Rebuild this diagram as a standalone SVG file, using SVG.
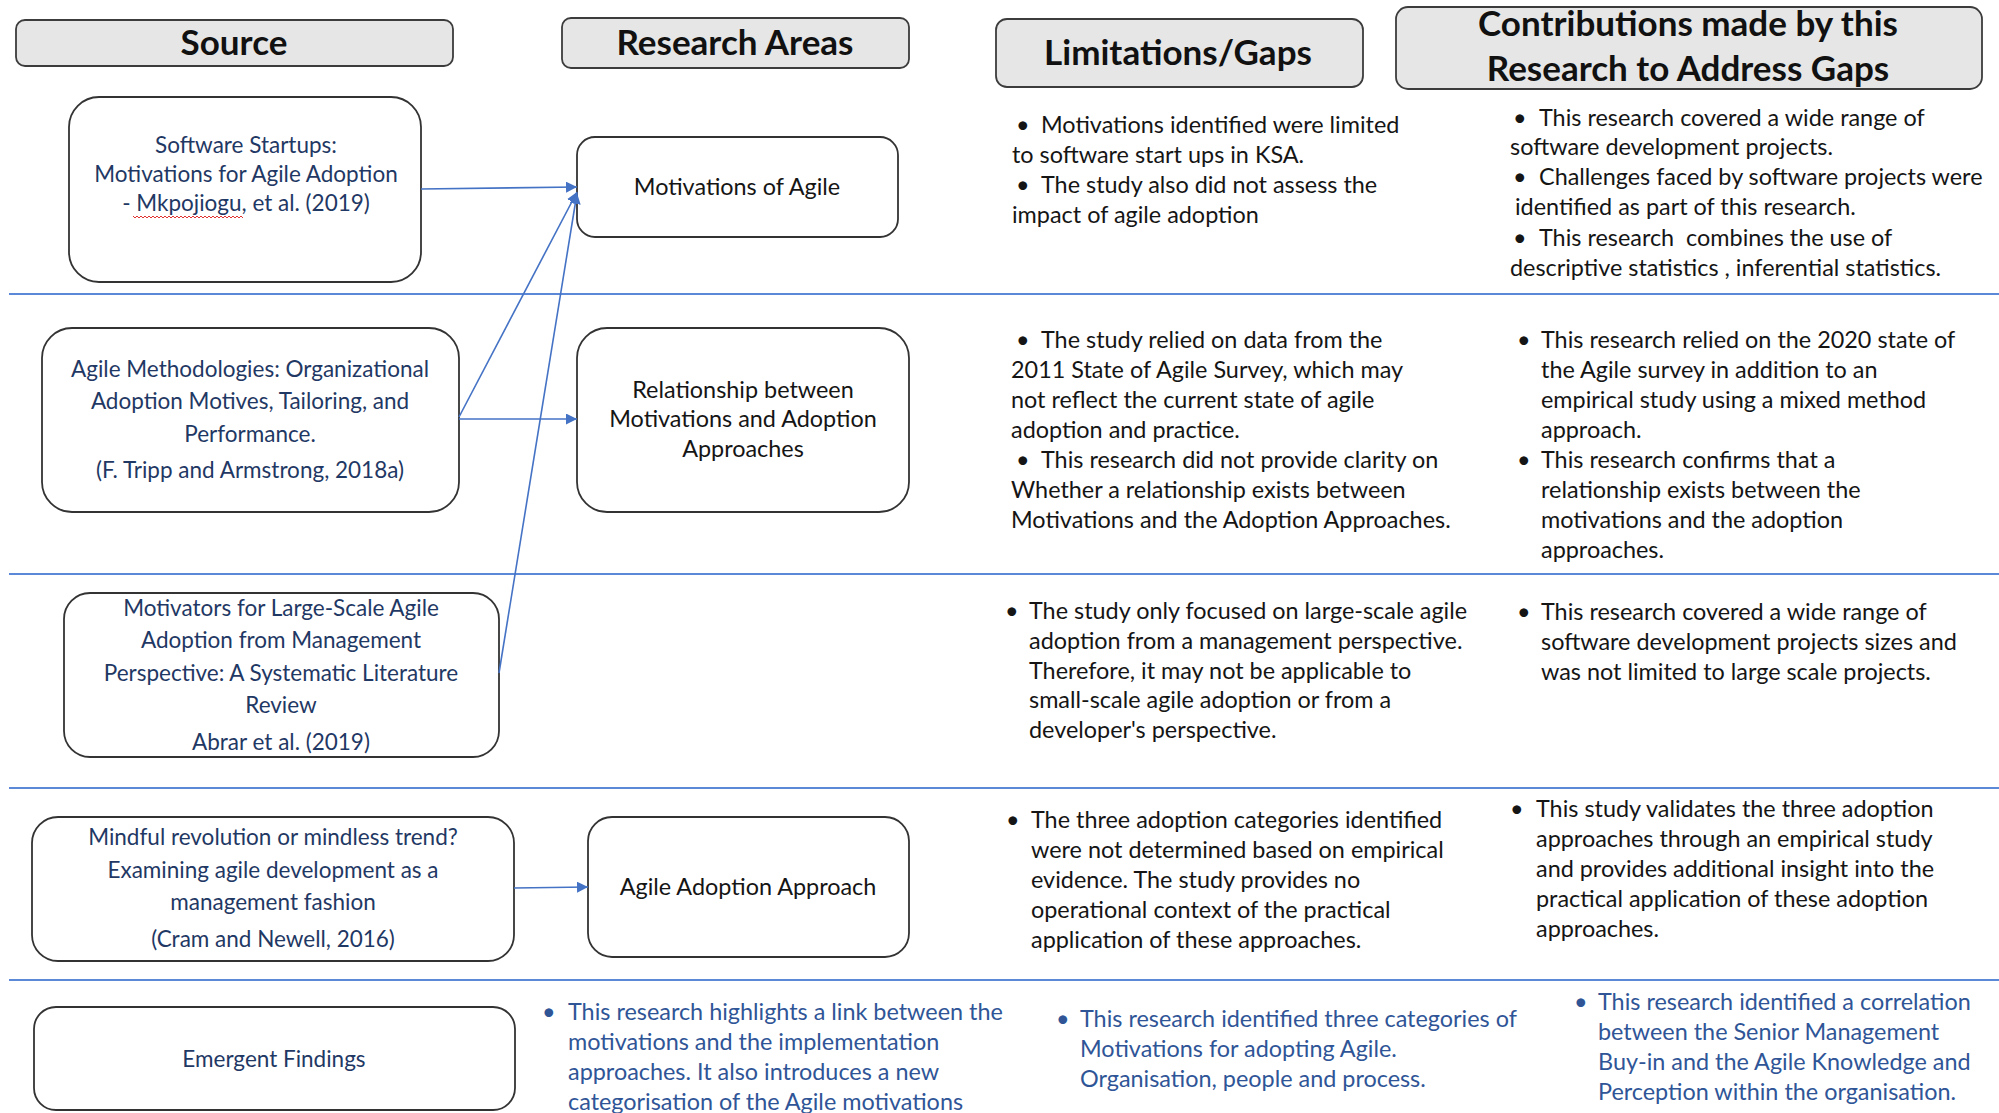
<svg xmlns="http://www.w3.org/2000/svg" width="1999" height="1113" viewBox="0 0 1999 1113">
  <style>
    .bg { fill: #ffffff; }
    .hdr rect { fill: #e6e6e6; stroke: #3c3c3c; stroke-width: 1.8; }
    .hdr text { font-family: Lato, "Liberation Sans", sans-serif; font-weight: 700; font-size: 35px; fill: #111; text-anchor: middle; }
    .node rect { fill: #ffffff; stroke: #333333; stroke-width: 1.8; }
    .node text { font-family: Lato, "Liberation Sans", sans-serif; font-size: 22.5px; fill: #1f3864; text-anchor: middle; }
    .node.area text { fill: #151515; font-size: 23.4px; }
    .body { font-family: Lato, "Liberation Sans", sans-serif; font-size: 23.4px; fill: #151515; }
    .blue { fill: #2f5597; }
    .pre { white-space: pre; }
    .rule { stroke: #5b89d8; stroke-width: 2.2; fill: none; }
    .conn { stroke: #4472c4; stroke-width: 1.6; fill: none; marker-end: url(#arrow); }
    .squiggle { stroke: #e03030; stroke-width: 1; fill: none; }
  </style>
  <defs>
    <marker id="arrow" viewBox="0 0 10 10" refX="10" refY="5" markerWidth="11" markerHeight="11" markerUnits="userSpaceOnUse" orient="auto">
      <path d="M0,0 L10,5 L0,10 z" fill="#4472c4"/>
    </marker>
  </defs>

  <rect class="bg" x="0" y="0" width="1999" height="1113"/>

  <!-- column headers -->
  <g id="hdr-source" class="hdr">
    <rect x="16" y="20" width="437" height="46" rx="9"/>
    <text x="234" y="55">Source</text>
  </g>
  <g id="hdr-areas" class="hdr">
    <rect x="562" y="18" width="347" height="50" rx="9"/>
    <text x="735" y="55">Research Areas</text>
  </g>
  <g id="hdr-gaps" class="hdr">
    <rect x="996" y="19" width="367" height="68" rx="11"/>
    <text x="1178" y="65">Limitations/Gaps</text>
  </g>
  <g id="hdr-contrib" class="hdr">
    <rect x="1396" y="7" width="586" height="82" rx="12"/>
    <text x="1688" y="36">Contributions made by this</text>
    <text x="1688" y="81">Research to Address Gaps</text>
  </g>

  <!-- row separators -->
  <g id="rules">
    <line class="rule" x1="9" y1="294" x2="1999" y2="294"/>
    <line class="rule" x1="9" y1="574" x2="1999" y2="574"/>
    <line class="rule" x1="9" y1="788" x2="1999" y2="788"/>
    <line class="rule" x1="9" y1="980" x2="1999" y2="980"/>
  </g>

  <!-- source nodes -->
  <g id="src-startups" class="node">
    <rect x="69" y="97" width="352" height="185" rx="30"/>
    <text x="246" y="153">Software Startups:</text>
    <text x="246" y="182">Motivations for Agile Adoption</text>
    <text x="246" y="211">- Mkpojiogu, et al. (2019)</text>
    <path class="squiggle" d="M133,216 l2,2 l2,-2 l2,2 l2,-2 l2,2 l2,-2 l2,2 l2,-2 l2,2 l2,-2 l2,2 l2,-2 l2,2 l2,-2 l2,2 l2,-2 l2,2 l2,-2 l2,2 l2,-2 l2,2 l2,-2 l2,2 l2,-2 l2,2 l2,-2 l2,2 l2,-2 l2,2 l2,-2 l2,2 l2,-2 l2,2 l2,-2 l2,2 l2,-2 l2,2 l2,-2 l2,2 l2,-2 l2,2 l2,-2 l2,2 l2,-2 l2,2 l2,-2 l2,2 l2,-2 l2,2 l2,-2 l2,2 l2,-2 l2,2 l2,-2 l2,2"/>
  </g>
  <g id="src-tripp" class="node">
    <rect x="42" y="328" width="417" height="184" rx="30"/>
    <text x="250" y="377">Agile Methodologies: Organizational</text>
    <text x="250" y="409">Adoption Motives, Tailoring, and</text>
    <text x="250" y="442">Performance.</text>
    <text x="250" y="478">(F. Tripp and Armstrong, 2018a)</text>
  </g>
  <g id="src-abrar" class="node">
    <rect x="64" y="593" width="435" height="164" rx="26"/>
    <text x="281" y="616">Motivators for Large-Scale Agile</text>
    <text x="281" y="648">Adoption from Management</text>
    <text x="281" y="681">Perspective: A Systematic Literature</text>
    <text x="281" y="713">Review</text>
    <text x="281" y="750">Abrar et al. (2019)</text>
  </g>
  <g id="src-cram" class="node">
    <rect x="32" y="817" width="482" height="144" rx="26"/>
    <text x="273" y="845">Mindful revolution or mindless trend?</text>
    <text x="273" y="878">Examining agile development as a</text>
    <text x="273" y="910">management fashion</text>
    <text x="273" y="947">(Cram and Newell, 2016)</text>
  </g>
  <g id="src-emergent" class="node">
    <rect x="34" y="1007" width="481" height="103" rx="22"/>
    <text x="274" y="1067">Emergent Findings</text>
  </g>

  <!-- research area nodes -->
  <g id="area-motivations" class="node area">
    <rect x="577" y="137" width="321" height="100" rx="18"/>
    <text x="737" y="195">Motivations of Agile</text>
  </g>
  <g id="area-relationship" class="node area">
    <rect x="577" y="328" width="332" height="184" rx="30"/>
    <text x="743" y="398">Relationship between</text>
    <text x="743" y="427">Motivations and Adoption</text>
    <text x="743" y="457">Approaches</text>
  </g>
  <g id="area-approach" class="node area">
    <rect x="588" y="817" width="321" height="140" rx="24"/>
    <text x="748" y="895">Agile Adoption Approach</text>
  </g>

  <!-- connectors -->
  <g id="connectors">
    <line class="conn" x1="421" y1="189" x2="577" y2="187"/>
    <line class="conn" x1="459" y1="417" x2="577" y2="192"/>
    <line class="conn" x1="499" y1="673" x2="577" y2="193"/>
    <line class="conn" x1="459" y1="419" x2="577" y2="419"/>
    <line class="conn" x1="514" y1="888" x2="588" y2="887"/>
  </g>

  <!-- limitations / gaps column -->
  <g id="gaps-text" class="body">
    <text x="1016" y="133">•</text><text x="1041" y="133">Motivations identified were limited</text>
    <text x="1012" y="163">to software start ups in KSA.</text>
    <text x="1016" y="193">•</text><text x="1041" y="193">The study also did not assess the</text>
    <text x="1012" y="223">impact of agile adoption</text>

    <text x="1016" y="348">•</text><text x="1041" y="348">The study relied on data from the</text>
    <text x="1011" y="378">2011 State of Agile Survey, which may</text>
    <text x="1011" y="408">not reflect the current state of agile</text>
    <text x="1011" y="438">adoption and practice.</text>
    <text x="1016" y="468">•</text><text x="1041" y="468">This research did not provide clarity on</text>
    <text x="1011" y="498">Whether a relationship exists between</text>
    <text x="1011" y="528">Motivations and the Adoption Approaches.</text>

    <text x="1005" y="619">•</text><text x="1029" y="619">The study only focused on large-scale agile</text>
    <text x="1029" y="649">adoption from a management perspective.</text>
    <text x="1029" y="679">Therefore, it may not be applicable to</text>
    <text x="1029" y="708">small-scale agile adoption or from a</text>
    <text x="1029" y="738">developer's perspective.</text>

    <text x="1006" y="828">•</text><text x="1031" y="828">The three adoption categories identified</text>
    <text x="1031" y="858">were not determined based on empirical</text>
    <text x="1031" y="888">evidence. The study provides no</text>
    <text x="1031" y="918">operational context of the practical</text>
    <text x="1031" y="948">application of these approaches.</text>
  </g>

  <!-- contributions column -->
  <g id="contrib-text" class="body">
    <text x="1513" y="126">•</text><text x="1539" y="126">This research covered a wide range of</text>
    <text x="1510" y="155">software development projects.</text>
    <text x="1513" y="185">•</text><text x="1539" y="185">Challenges faced by software projects were</text>
    <text x="1515" y="215">identified as part of this research.</text>
    <text x="1513" y="246">•</text><text class="pre" x="1539" y="246">This research  combines the use of</text>
    <text x="1510" y="276">descriptive statistics , inferential statistics.</text>

    <text x="1517" y="348">•</text><text x="1541" y="348">This research relied on the 2020 state of</text>
    <text x="1541" y="378">the Agile survey in addition to an</text>
    <text x="1541" y="408">empirical study using a mixed method</text>
    <text x="1541" y="438">approach.</text>
    <text x="1517" y="468">•</text><text x="1541" y="468">This research confirms that a</text>
    <text x="1541" y="498">relationship exists between the</text>
    <text x="1541" y="528">motivations and the adoption</text>
    <text x="1541" y="558">approaches.</text>

    <text x="1517" y="620">•</text><text x="1541" y="620">This research covered a wide range of</text>
    <text x="1541" y="650">software development projects sizes and</text>
    <text x="1541" y="680">was not limited to large scale projects.</text>

    <text x="1510" y="817">•</text><text x="1536" y="817">This study validates the three adoption</text>
    <text x="1536" y="847">approaches through an empirical study</text>
    <text x="1536" y="877">and provides additional insight into the</text>
    <text x="1536" y="907">practical application of these adoption</text>
    <text x="1536" y="937">approaches.</text>
  </g>

  <!-- emergent findings row -->
  <g id="emergent-text" class="body blue">
    <text x="542" y="1020">•</text><text x="568" y="1020">This research highlights a link between the</text>
    <text x="568" y="1050">motivations and the implementation</text>
    <text x="568" y="1080">approaches. It also introduces a new</text>
    <text x="568" y="1110">categorisation of the Agile motivations</text>

    <text x="1056" y="1027">•</text><text x="1080" y="1027">This research identified three categories of</text>
    <text x="1080" y="1057">Motivations for adopting Agile.</text>
    <text x="1080" y="1087">Organisation, people and process.</text>

    <text x="1574" y="1010">•</text><text x="1598" y="1010">This research identified a correlation</text>
    <text x="1598" y="1040">between the Senior Management</text>
    <text x="1598" y="1070">Buy-in and the Agile Knowledge and</text>
    <text x="1598" y="1100">Perception within the organisation.</text>
  </g>
</svg>
